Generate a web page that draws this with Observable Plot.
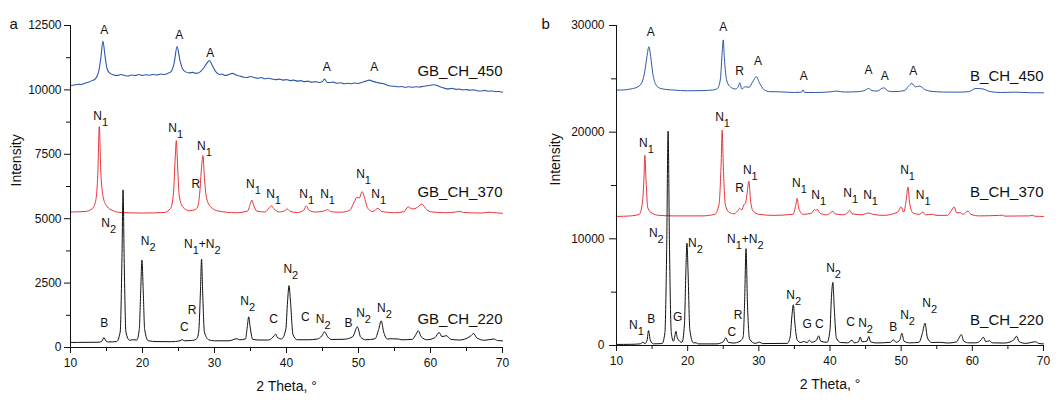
<!DOCTYPE html>
<html>
<head>
<meta charset="utf-8">
<script src="https://cdn.jsdelivr.net/npm/d3@7"></script>
<script src="https://cdn.jsdelivr.net/npm/@observablehq/plot@0.6"></script>
<style>
  body { margin: 0; background: white; }
  #charts { display: flex; width: 1064px; }
</style>
</head>
<body>
<div id="charts"></div>
<script>
// ---- panel a: 2 theta / intensity pairs ----
const gb450 = [[10,10170],[10.5,10190],[11,10220],[11.5,10210],[12,10260],[12.5,10300],[13,10360],[13.5,10450],[13.9,10700],[14.2,11200],[14.5,11900],[14.8,11300],[15.1,10800],[15.5,10640],[16,10580],[16.5,10560],[17,10600],[17.5,10560],[18,10540],[18.5,10580],[19,10560],[19.5,10600],[20,10560],[20.5,10590],[21,10570],[21.5,10600],[22,10580],[22.5,10620],[23,10600],[23.5,10640],[24,10720],[24.4,11050],[24.8,11680],[25.2,11150],[25.6,10800],[26,10700],[26.5,10660],[27,10680],[27.5,10640],[28,10700],[28.5,10850],[28.8,10980],[29.3,11140],[29.7,10950],[30.2,10700],[30.7,10600],[31,10620],[31.5,10560],[32,10600],[32.5,10640],[33,10580],[33.5,10540],[34,10500],[34.5,10480],[35,10520],[35.5,10480],[36,10450],[36.5,10480],[37,10430],[37.5,10450],[38,10420],[38.5,10400],[39,10420],[39.5,10380],[40,10400],[40.5,10360],[41,10380],[41.5,10340],[42,10360],[42.5,10320],[43,10340],[43.5,10300],[44,10320],[44.5,10290],[45,10330],[45.3,10420],[45.6,10300],[46,10290],[46.5,10300],[47,10260],[47.5,10280],[48,10240],[48.5,10260],[49,10240],[49.5,10270],[50,10250],[50.5,10300],[51,10340],[51.5,10380],[52,10330],[52.5,10300],[53,10260],[53.5,10240],[54,10180],[54.5,10150],[55,10140],[55.5,10120],[56,10130],[56.5,10100],[57,10120],[57.5,10100],[58,10120],[58.5,10110],[59,10140],[59.5,10160],[60,10180],[60.5,10200],[61,10160],[61.5,10100],[62,10060],[62.5,10040],[63,10060],[63.5,10020],[64,10030],[64.5,10000],[65,10010],[65.5,9990],[66,10000],[66.5,9970],[67,9960],[67.5,9980],[68,9950],[68.5,9960],[69,9930],[69.5,9940],[70,9910]];

const gb370 = [[10,5260],[12,5280],[13,5380],[13.5,5700],[13.8,6800],[14.0,8575],[14.2,6900],[14.5,5900],[15,5500],[16,5300],[17,5240],[20,5220],[23,5240],[23.9,5400],[24.3,6000],[24.55,7400],[24.7,8030],[24.85,7200],[25.1,5900],[25.6,5450],[26.5,5310],[27.3,5350],[27.7,5500],[27.95,6000],[28.2,7000],[28.4,7450],[28.6,6600],[28.9,5800],[29.5,5450],[30.5,5300],[33,5230],[34.6,5300],[35.0,5600],[35.2,5725],[35.4,5550],[35.9,5290],[37,5260],[37.6,5420],[37.9,5500],[38.2,5400],[39,5260],[39.8,5320],[40.1,5380],[40.5,5290],[41.5,5240],[42.4,5330],[42.75,5500],[43.1,5330],[44,5260],[45.2,5300],[45.7,5350],[46.2,5270],[47.5,5250],[48.8,5330],[49.4,5650],[49.8,5830],[50.1,5800],[50.5,6050],[50.8,5850],[51.3,5400],[52,5280],[52.7,5400],[53.2,5280],[54,5250],[55,5230],[56.3,5270],[56.9,5460],[57.3,5400],[57.7,5380],[58.3,5470],[58.8,5570],[59.3,5400],[60,5270],[62,5230],[63.5,5260],[64,5290],[64.6,5240],[67,5220],[68.2,5250],[68.6,5240],[70,5210]];

const gb220 = [[10,195],[12,200],[14,205],[14.4,260],[14.65,390],[14.9,260],[15.3,215],[16.4,230],[16.9,600],[17.15,3500],[17.3,6120],[17.45,3500],[17.7,600],[18.2,280],[18.6,300],[19.2,290],[19.55,700],[19.75,2200],[19.92,3390],[20.1,2200],[20.3,700],[20.8,260],[22,230],[24,225],[25.2,260],[25.5,310],[25.8,260],[26.8,270],[27.5,330],[27.8,600],[28.05,2200],[28.2,3430],[28.35,2200],[28.6,600],[29.2,300],[30,260],[32,260],[33.1,340],[33.5,300],[34.3,330],[34.55,800],[34.75,1190],[34.95,800],[35.3,320],[36.2,290],[37.5,290],[38.3,460],[38.5,520],[38.7,400],[39.3,330],[39.9,700],[40.15,1800],[40.35,2400],[40.55,1800],[40.9,500],[41.5,300],[43,300],[44.3,330],[44.9,450],[45.3,610],[45.7,420],[46.3,310],[48,320],[49.2,420],[49.85,800],[50.3,400],[51,300],[52.3,340],[52.8,700],[53.15,1035],[53.5,600],[54,330],[54.5,340],[55.5,330],[56,300],[57.5,320],[58,520],[58.3,650],[58.7,420],[59.5,300],[60.6,380],[61.2,580],[61.6,420],[62.2,460],[62.8,320],[64,290],[65.5,430],[66,545],[66.4,380],[67.5,280],[68.8,330],[69.3,270],[70,260]];

// ---- panel b ----
const b450 = [[10,23940],[11,23960],[12,24050],[13,24250],[13.6,24700],[14.0,25800],[14.3,27200],[14.55,28010],[14.8,27100],[15.1,25500],[15.5,24500],[16,24150],[17,24000],[18,23950],[20,23880],[22,23900],[23.5,23950],[24.2,24100],[24.6,25000],[24.85,27500],[25.0,28650],[25.15,27000],[25.5,24800],[26,24250],[26.7,24050],[27.1,24250],[27.33,24640],[27.6,24050],[28.1,24260],[28.6,24200],[29.2,24800],[29.65,25200],[30.1,24600],[30.7,24000],[31.5,23800],[33,23780],[35,23720],[36.0,23750],[36.2,23970],[36.45,23720],[38,23720],[40,23780],[41,23850],[42,23760],[44,23800],[45.0,23950],[45.4,24100],[45.9,23900],[46.6,23850],[47.55,24160],[48.2,23850],[49,23800],[50.5,23900],[51.0,24300],[51.5,24570],[52.0,24250],[52.6,24320],[53.3,24000],[54,23850],[56,23760],[58,23750],[59.5,23800],[60.5,24100],[61.5,24050],[62.5,23800],[64,23720],[66,23750],[68,23700],[70,23690]];

const b370 = [[10,12100],[12,12150],[13.2,12300],[13.6,13200],[13.85,15500],[13.98,17840],[14.15,15500],[14.4,12900],[15,12400],[16,12200],[18,12150],[22,12150],[23.8,12300],[24.4,13200],[24.7,17000],[24.85,20190],[25.0,17000],[25.3,13200],[25.8,12500],[26.5,12350],[27.0,12600],[27.3,12860],[27.6,12700],[27.9,13200],[28.1,13300],[28.3,14000],[28.6,15400],[28.85,13500],[29.2,12600],[30,12300],[32,12200],[34.8,12300],[35.2,13200],[35.38,13800],[35.6,12900],[36.2,12300],[37.4,12400],[37.85,12770],[38.0,12650],[38.2,12770],[38.6,12400],[39.5,12250],[40.1,12450],[40.4,12580],[40.7,12350],[41.8,12250],[42.5,12450],[42.76,12680],[43.1,12350],[44.5,12250],[45.1,12380],[45.5,12420],[46.0,12300],[47.5,12200],[49.5,12500],[50.0,12990],[50.35,12500],[50.7,13600],[50.95,14860],[51.2,13300],[51.7,12400],[52.6,12300],[53.05,12520],[53.4,12250],[54.4,12300],[54.9,12200],[56.5,12200],[57.1,12700],[57.45,12990],[57.8,12450],[58.3,12450],[58.7,12300],[59.4,12610],[59.8,12300],[61,12150],[63.8,12200],[64.2,12210],[64.6,12130],[68,12150],[68.4,12210],[68.8,12120],[70,12100]];

const b220 = [[10,100],[12,110],[13.3,150],[13.7,300],[14.0,180],[14.3,500],[14.5,1400],[14.75,500],[15.2,150],[16.4,180],[16.8,1200],[17.05,9000],[17.25,20100],[17.45,9000],[17.7,1200],[18.0,400],[18.2,900],[18.35,1340],[18.55,700],[19.2,300],[19.55,2000],[19.75,7000],[19.9,9600],[20.05,7000],[20.3,1500],[20.8,250],[21.2,250],[21.5,150],[24,150],[25.0,350],[25.35,720],[25.7,300],[26.5,230],[27.2,350],[27.5,470],[27.8,800],[28.0,4000],[28.2,9080],[28.4,4000],[28.7,600],[29.5,200],[30.1,320],[30.5,180],[34,200],[34.4,800],[34.65,2800],[34.85,3820],[35.05,2200],[35.4,500],[35.9,280],[36.3,380],[36.8,270],[37.1,500],[37.4,300],[38.1,500],[38.4,910],[38.7,400],[39.6,300],[40.0,1500],[40.2,4500],[40.4,5920],[40.6,3500],[40.9,700],[41.5,280],[42.5,250],[43.1,500],[43.4,250],[44.0,350],[44.25,780],[44.5,350],[45.2,420],[45.45,845],[45.7,350],[46.5,240],[48.5,300],[48.9,530],[49.3,300],[49.8,500],[50.1,1155],[50.4,400],[51.2,250],[52.5,300],[53.0,1200],[53.35,2090],[53.7,700],[54.3,280],[55.5,300],[56.5,230],[57.8,350],[58.2,800],[58.45,1030],[58.8,400],[59.5,250],[60.5,250],[61.2,500],[61.55,780],[61.9,350],[62.4,450],[62.8,250],[64.5,230],[65.8,500],[66.2,875],[66.6,350],[67.5,200],[68.9,350],[69.3,200],[70,150]];

// ---- phase labels: [2theta, intensity, text] ----
const peaksA = [
  [14.7,12306,"A"],[25.1,12111,"A"],[29.4,11412,"A"],[45.6,10868,"A"],[52.2,10868,"A"],
  [14.2,9000,"N1"],[24.6,8496,"N1"],[28.6,7835,"N1"],[27.4,6359,"R"],[35.4,6359,"N1"],
  [38.2,5971,"N1"],[42.8,5971,"N1"],[45.7,5971,"N1"],[50.7,6748,"N1"],[52.8,5971,"N1"],
  [15.3,4845,"N2"],[20.8,4146,"N2"],[28.3,4029,"N1+N2"],[26.9,1465,"R"],[25.8,804,"C"],
  [14.7,960,"B"],[34.6,1815,"N2"],[38.2,1116,"C"],[40.6,3058,"N2"],[42.6,1193,"C"],
  [45.1,1116,"N2"],[48.6,960,"B"],[50.7,1348,"N2"],[53.6,1543,"N2"]
];
const peaksB = [
  [14.8,29343,"A"],[25.0,29813,"A"],[27.3,25675,"R"],[29.9,26615,"A"],[36.3,25205,"A"],
  [45.4,25769,"A"],[47.7,25205,"A"],[51.7,25675,"A"],
  [14.2,18997,"N1"],[24.9,21443,"N1"],[28.8,16458,"N1"],[27.3,14765,"R"],[35.7,15235,"N1"],
  [38.4,14107,"N1"],[42.9,14295,"N1"],[45.7,14107,"N1"],[50.9,16458,"N1"],[53.1,14107,"N1"],
  [15.6,10533,"N2"],[21.1,9593,"N2"],[28.1,9969,"N1+N2"],[40.5,7242,"N2"],[34.9,4702,"N2"],
  [27.1,2821,"R"],[26.2,1223,"C"],[18.6,2633,"G"],[14.9,2445,"B"],[12.8,1881,"N1"],
  [36.8,1975,"G"],[38.5,1975,"C"],[42.9,2163,"C"],[45.0,2069,"N2"],[48.9,1693,"B"],
  [50.9,2821,"N2"],[54.0,3950,"N2"]
];

const namesA = [["GB_CH_450",10712],["GB_CH_370",6011],["GB_CH_220",1116]];
const namesB = [["B_CH_450",25205],["B_CH_370",14389],["B_CH_220",2351]];

const xTicks = [10,20,30,40,50,60,70];
const xMinor = [15,25,35,45,55,65];
const yTicksA = [0,2500,5000,7500,10000,12500];
const yMinorA = [1250,3750,6250,8750,11250];
const yTicksB = [0,10000,20000,30000];
const yMinorB = [5000,15000,25000];

const BLUE = "#2c58a6", RED = "#e8343a", BLACK = "#111";

const toXY = (arr) => arr.map(([x, y]) => ({x, y}));

function panel({letter, series, peaks, names, yMax, yTicks, yMinor, marginLeft, marginRight, marginBottom, labelDx, tickSize, tickPadding}) {
  const lines = series.map(([data, color, sw]) =>
    Plot.line(toXY(data), {x: "x", y: "y", stroke: color, strokeWidth: sw, curve: "monotone-x"}));
  const chart = Plot.plot({
    width: 532,
    height: 405,
    marginLeft,
    marginRight,
    marginTop: 25,
    marginBottom,
    x: {domain: [10, 70]},
    y: {domain: [0, yMax]},
    style: {fontFamily: "'Liberation Sans', Arial, sans-serif", background: "white", color: "#111"},
    marks: [
      ...lines,
      Plot.text(peaks.map(([x, y, t]) => ({x, y, t})), {x: "x", y: "y", text: "t", fontSize: 12, fill: "#111"}),
      Plot.text(names, {x: () => 70, y: (d) => d[1], text: (d) => d[0], textAnchor: "end", fontSize: 15, fill: "#111"}),
      Plot.ruleX([10], {y1: 0, y2: yMax, stroke: "#111"}),
      Plot.ruleY([0], {x1: 10, x2: 70, stroke: "#111"}),
      Plot.axisY({ticks: yTicks, tickSize, tickPadding, fontSize: 12, label: null, tickFormat: (d) => String(d)}),
      Plot.axisY({ticks: yMinor, tickSize: tickSize - 2, text: null, label: null}),
      Plot.axisX({ticks: xTicks, tickSize: 6, tickPadding: 5, fontSize: 12, label: null}),
      Plot.axisX({ticks: xMinor, tickSize: 4, text: null, label: null}),
      Plot.text(["2 Theta, °"], {frameAnchor: "bottom", dy: 43, fontSize: 14, fill: "#111"}),
      Plot.text(["Intensity"], {frameAnchor: "left", rotate: -90, dx: labelDx, fontSize: 14, fill: "#111"}),
      Plot.text([letter], {frameAnchor: "top-left", dx: -(marginLeft - 9), dy: -7, textAnchor: "start", fontSize: 15, fill: "#111"})
    ]
  });
  // turn the digits of N1 / N2 labels into subscripts
  d3.select(chart).selectAll("text").each(function () {
    const s = this.textContent;
    if (!/^N\d(\+N\d)?$/.test(s)) return;
    const el = d3.select(this).text(null);
    let low = false;
    s.split(/(\d)/).filter((p) => p).forEach((p) => {
      const isSub = /\d/.test(p);
      const ts = el.append("tspan").text(p);
      if (isSub) { ts.attr("font-size", 11); if (!low) { ts.attr("dy", 6); low = true; } }
      else if (low) { ts.attr("dy", -6); low = false; }
    });
  });
  return chart;
}

const chartA = panel({
  letter: "a",
  series: [[gb450, BLUE, 1.1], [gb370, RED, 1], [gb220, BLACK, 1]],
  peaks: peaksA, names: namesA, yMax: 12500, yTicks: yTicksA, yMinor: yMinorA,
  marginLeft: 70, marginRight: 30, marginBottom: 58, labelDx: -54, tickSize: 6, tickPadding: 3
});
const chartB = panel({
  letter: "b",
  series: [[b450, BLUE, 1], [b370, RED, 1], [b220, BLACK, 1]],
  peaks: peaksB, names: namesB, yMax: 30000, yTicks: yTicksB, yMinor: yMinorB,
  marginLeft: 84, marginRight: 21, marginBottom: 60, labelDx: -61, tickSize: 7, tickPadding: 5
});

d3.select("#charts").append(() => chartA);
d3.select("#charts").append(() => chartB);
</script>
</body>
</html>
